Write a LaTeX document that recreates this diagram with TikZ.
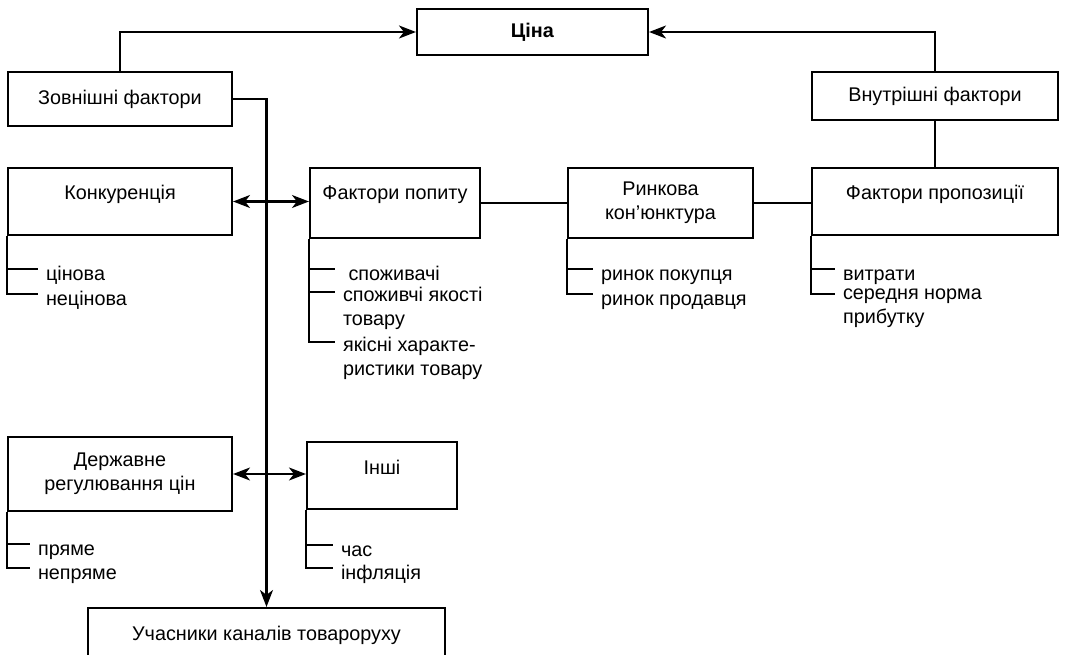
\documentclass[tikz,border=0pt]{standalone}
\usepackage{fontspec}
\setmainfont{Liberation Sans}
\usetikzlibrary{arrows.meta}

\begin{document}
\begin{tikzpicture}[x=1pt,y=-1pt,line width=2.1pt,
  every node/.style={font=\fontsize{19.8}{24}\selectfont},
  box/.style={draw,align=center,inner xsep=0pt,inner ysep=0pt},
  tb/.style={text height=32pt,text depth=35pt},
  item/.style={anchor=north west,align=left,inner xsep=7pt,inner ysep=0pt,execute at begin node=\strut},
  ar/.style={-{Stealth[length=17pt,width=13pt,inset=5pt]}},
  dar/.style={{Stealth[length=17pt,width=13pt,inset=5pt]}-{Stealth[length=17pt,width=13pt,inset=5pt]}}]
\useasboundingbox (0,0) rectangle (1088,655);
% top level
\node[box,minimum width=231pt,minimum height=46pt] (cina) at (532.5,32) {\textbf{Ціна}};
\node[box,minimum width=224pt,minimum height=54pt] (zovn) at (120,99) {Зовнішні фактори};
\node[box,minimum width=246pt,minimum height=48pt] (vnutr) at (935,96) {Внутрішні фактори};
% factor boxes
\node[box,tb,minimum width=224pt] (konk) at (120,201.5) {Конкуренція};
\node[box,tb,text depth=38pt,minimum width=170pt] (popyt) at (395,203) {Фактори попиту};
\node[box,minimum width=185pt,minimum height=70pt] (rynok) at (660.5,203) {Ринкова\\кон’юнктура};
\node[box,tb,minimum width=246pt] (propoz) at (935,201.5) {Фактори пропозиції};
\node[box,minimum width=224pt,minimum height=74pt] (derzh) at (120,474) {Державне\\регулювання цін};
\node[box,tb,minimum width=150pt] (inshi) at (382,475.5) {Інші};
\node[box,tb,minimum width=357pt] (uchas) at (266.5,641.5) {Учасники каналів товароруху};
% lists
\node[item] (k1) at (38,263) {цінова};
\node[item] (k2) at (38,288) {нецінова};
\node[item] (p1) at (335,263) {\ споживачі};
\node[item] (p2) at (335,286) {споживчі якості\\товару};
\node[item] (p3) at (335,336) {якісні характе-\\ристики товару};
\node[item] (r1) at (593,263) {ринок покупця};
\node[item] (r2) at (593,288) {ринок продавця};
\node[item] (s1) at (835,263) {витрати};
\node[item] (s2) at (835,288) {середня норма\\прибутку};
\node[item] (d1) at (30,538) {пряме};
\node[item] (d2) at (30,562) {непряме};
\node[item] (i1) at (333,539) {час};
\node[item] (i2) at (333,562) {інфляція};
% connectors
\draw[ar] (zovn.north) |- (cina.west);
\draw[ar] (vnutr.north) |- (cina.east);
\draw (vnutr) -- (propoz);
\draw[ar] (zovn.east) -| (uchas.north);
\draw[dar] (konk.east) -- (konk.east -| popyt.west);
\draw[dar] (derzh.east) -- (derzh.east -| inshi.west);
\draw (rynok.west -| popyt.east) -- (rynok.west);
\draw (rynok.east) -- (rynok.east -| propoz.west);
\foreach \x in {k1,k2} \draw (konk.south west) |- ([yshift=-6pt]\x.north west);
\foreach \x in {p1,p2,p3} \draw (popyt.south west) |- ([yshift=-6pt]\x.north west);
\foreach \x in {r1,r2} \draw (rynok.south west) |- ([yshift=-6pt]\x.north west);
\foreach \x in {s1,s2} \draw (propoz.south west) |- ([yshift=-6pt]\x.north west);
\foreach \x in {d1,d2} \draw (derzh.south west) |- ([yshift=-6pt]\x.north west);
\foreach \x in {i1,i2} \draw (inshi.south west) |- ([yshift=-6pt]\x.north west);
\end{tikzpicture}
\end{document}
